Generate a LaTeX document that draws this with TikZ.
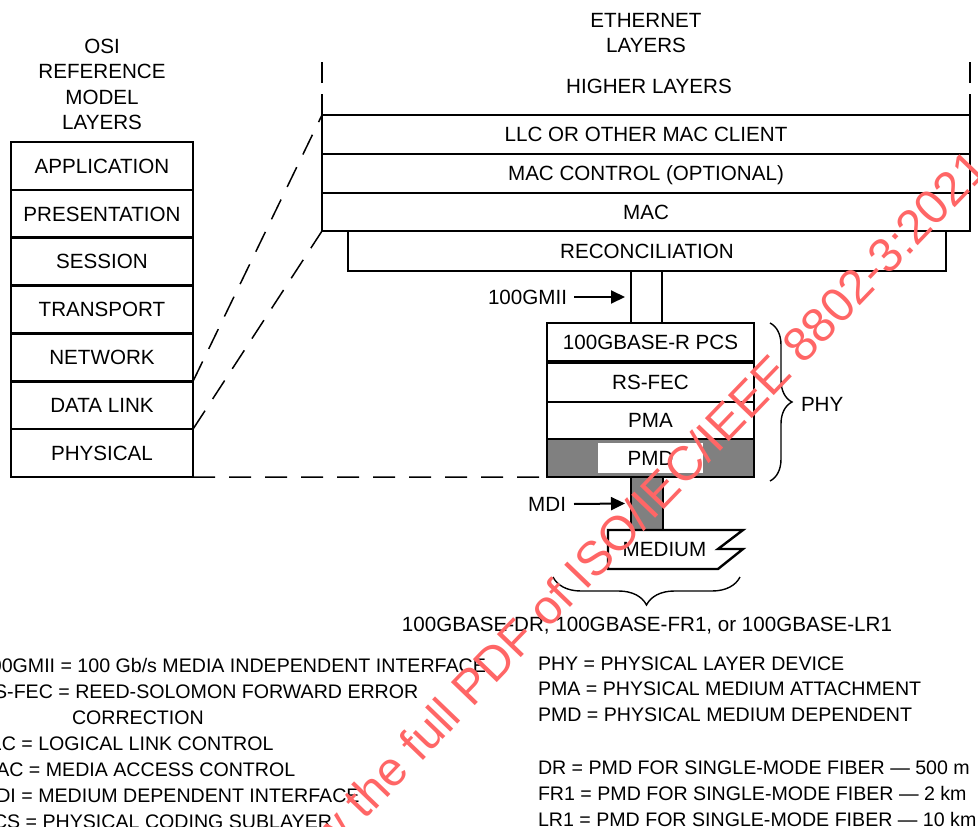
\documentclass[tikz,border=0pt]{standalone}
\usepackage{fontspec}
\setmainfont{Liberation Sans}
\usetikzlibrary{arrows.meta,decorations.pathreplacing}
\definecolor{wmred}{RGB}{255,102,102}
\begin{document}
\begin{tikzpicture}[x=1pt,y=-1pt,
 every node/.style={inner sep=0pt, outer sep=0pt},
 txt/.style={font=\fontsize{20.6pt}{26pt}\selectfont, text height=14.4pt, text depth=0pt},
 lgd/.style={font=\fontsize{19.6pt}{26pt}\selectfont, text height=13.8pt, text depth=0pt, anchor=west},
 layer/.style={txt, draw, line width=2.4pt},
 osi/.style={layer, minimum width=182pt, minimum height=47.86pt},
 eth/.style={layer, minimum width=648pt},
 phyl/.style={layer, minimum width=207pt},
 lw/.style={line width=2.4pt},
 dsh/.style={line width=1.5pt, dash pattern=on 22pt off 14pt},
 arr/.style={line width=2pt, -{Triangle[length=14pt,width=13pt]}},
 brc/.style={line width=1.4pt, decorate, decoration={brace, amplitude=#1}},
 wm/.style={text=wmred, font=\fontsize{48.2pt}{58pt}\selectfont, rotate=46.1, anchor=base west}
]
\useasboundingbox (0,0) rectangle (978,827);

% OSI title
\node[txt] (osi1) at (102,46) {OSI};
\node[txt] (osi2) at (102,71.5) {REFERENCE};
\node[txt] (osi3) at (102,97) {MODEL};
\node[txt] (osi4) at (102,122.5) {LAYERS};

% OSI stack
\node[osi] (app) at (102,165.9) {APPLICATION};
\node[osi] (pres) at (102,213.8) {PRESENTATION};
\node[osi] (sess) at (102,261.6) {SESSION};
\node[osi] (trans) at (102,309.5) {TRANSPORT};
\node[osi] (net) at (102,357.4) {NETWORK};
\node[osi] (dl) at (102,405.2) {DATA LINK};
\node[osi] (phys) at (102,453.1) {PHYSICAL};

% Ethernet title
\node[txt] (eth1) at (646,20) {ETHERNET};
\node[txt] (eth2) at (646,45) {LAYERS};
\node[txt] (higher) at (649,86.5) {HIGHER LAYERS};

% Ethernet stack
\node[eth, minimum height=39pt] (llc) at (646,134.5) {LLC OR OTHER MAC CLIENT};
\node[eth, minimum height=39pt] (macc) at (646,173.5) {MAC CONTROL (OPTIONAL)};
\node[eth, minimum height=38pt] (mac) at (646,212) {MAC};
\node[layer, minimum width=598pt, minimum height=40pt] (recon) at (647,251) {RECONCILIATION};

\draw[lw] (llc.north west) -- ++(0,-21) ++(0,-11) -- ++(0,-21);
\draw[lw] (llc.north east) -- ++(0,-21) ++(0,-11) -- ++(0,-21);

% 100GMII
\node[draw, line width=2.4pt, minimum width=31pt, minimum height=52pt] (gmii) at (646.5,297) {};
\node[txt, anchor=east] (gmiilbl) at (567,297) {100GMII};
\draw[arr] ([xshift=7pt]gmiilbl.east) -- ([xshift=-6pt]gmii.west);

% PHY stack
\node[phyl, minimum height=39pt] (pcs) at (650.5,342.5) {100GBASE-R PCS};
\node[phyl, minimum height=40pt] (rsfec) at (650.5,382) {RS-FEC};
\node[phyl, minimum height=37pt] (pma) at (650.5,420.5) {PMA};
\node[phyl, minimum height=38pt, fill=gray] (pmd) at (650.5,458) {};
\node[txt, fill=white, minimum width=105pt, minimum height=30pt] (pmdlbl) at (650.5,458) {PMD};
\draw[line width=4pt] (pcs.south west) -- (pcs.south east);

% PHY brace
\draw[brc=22pt] (770,323) -- (770,481);
\node[txt, anchor=west] (phy) at (801,404.5) {PHY};

% MDI
\node[draw, line width=2.4pt, fill=gray, minimum width=32pt, minimum height=53pt] (mdibar) at (647,503.5) {};
\node[txt, anchor=east] (mdilbl) at (566,504) {MDI};
\draw[arr] ([xshift=8pt]mdilbl.east) -- ([xshift=-6pt]mdibar.west);

% Medium
\draw[lw, fill=white] (608,530) -- (743,530) -- (718,549) -- (743,549) -- (718,569) -- (608,569) -- cycle;
\node[txt] (medium) at (664.5,549) {MEDIUM};

% bottom brace
\draw[brc=28pt] (740,577) -- (553,577);
\node[txt] (variants) at (647,624) {100GBASE-DR, 100GBASE-FR1, or 100GBASE-LR1};

% dashed mapping lines
\draw[dsh] (net.south east) -- (llc.north west);
\draw[dsh] (dl.south east) -- (mac.south west);
\draw[dsh] (phys.south east) -- (pmd.south west);

% legend left
\node[lgd] (lg1) at (-20,665.5) {100GMII = 100 Gb/s MEDIA INDEPENDENT INTERFACE};
\node[lgd] (lg2) at (-20,692) {RS-FEC = REED-SOLOMON FORWARD ERROR};
\node[lgd] (lg3) at (72,718) {CORRECTION};
\node[lgd] (lg4) at (-20,744) {LLC = LOGICAL LINK CONTROL};
\node[lgd] (lg5) at (-20,769.5) {MAC = MEDIA ACCESS CONTROL};
\node[lgd] (lg6) at (-20,795.5) {MDI = MEDIUM DEPENDENT INTERFACE};
\node[lgd] (lg7) at (-20,821.5) {PCS = PHYSICAL CODING SUBLAYER};

% legend right
\node[lgd] (rg1) at (538,664) {PHY = PHYSICAL LAYER DEVICE};
\node[lgd] (rg2) at (538,689) {PMA = PHYSICAL MEDIUM ATTACHMENT};
\node[lgd] (rg3) at (538,714.5) {PMD = PHYSICAL MEDIUM DEPENDENT};
\node[lgd] (rg4) at (538,767.5) {DR = PMD FOR SINGLE-MODE FIBER — 500 m};
\node[lgd] (rg5) at (538,794) {FR1 = PMD FOR SINGLE-MODE FIBER — 2 km};
\node[lgd] (rg6) at (538,819.5) {LR1 = PMD FOR SINGLE-MODE FIBER — 10 km};

% watermark
\begin{scope}
\clip (0,0) rectangle (978,827);
\node[wm] (wmark) at (169.8,1023.5) {Click to view the full PDF of ISO/IEC/IEEE 8802-3:2021};
\end{scope}
\end{tikzpicture}
\end{document}
